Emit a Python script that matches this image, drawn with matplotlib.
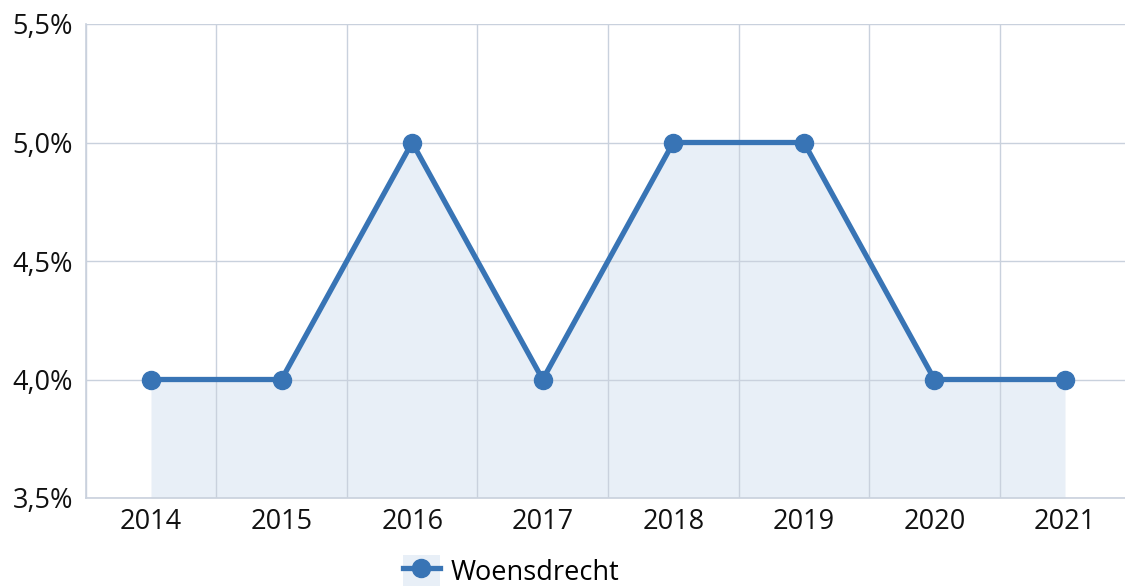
import matplotlib.pyplot as plt
import numpy as np
from matplotlib.lines import Line2D
from matplotlib.patches import Patch
from matplotlib.ticker import FixedLocator, FuncFormatter

years = ['2014', '2015', '2016', '2017', '2018', '2019', '2020', '2021']
values = [4.0, 4.0, 5.0, 4.0, 5.0, 5.0, 4.0, 4.0]
series_name = 'Woensdrecht'
y_ticks = [3.5, 4.0, 4.5, 5.0, 5.5]

line_color = '#3874b5'
fill_color = '#e8eff7'
grid_color = '#c9d1dd'

plt.rcParams['font.family'] = ['Open Sans', 'DejaVu Sans']

fig = plt.figure(figsize=(11.25, 5.87), dpi=100)
W, H = 1125, 587
left, right, top, bottom = 85.7, 1130.3, 24, 498
ax = fig.add_axes([left / W, 1 - bottom / H, (right - left) / W, (bottom - top) / H])

x = np.arange(len(years))
ax.fill_between(x, values, 3.5, color=fill_color, lw=0, zorder=1)
ax.plot(x, values, color=line_color, lw=3.8, marker='o', ms=13, zorder=3, clip_on=False)

ax.set_xlim(-0.5, len(years) - 0.5)
ax.set_ylim(3.5, 5.5)
ax.set_xticks(x)
ax.set_xticklabels(years)
ax.xaxis.set_minor_locator(FixedLocator(np.arange(-0.5, len(years), 1)))
ax.set_yticks(y_ticks)
ax.yaxis.set_major_formatter(FuncFormatter(lambda v, p: f'{v:.1f}%'.replace('.', ',')))

ax.grid(which='minor', axis='x', color=grid_color, lw=1, zorder=2)
ax.grid(which='major', axis='y', color=grid_color, lw=1, zorder=2)
ax.set_axisbelow(False)
for s in ['top', 'right']:
    ax.spines[s].set_visible(False)
for s in ['left', 'bottom']:
    ax.spines[s].set_color(grid_color)
    ax.spines[s].set_linewidth(1.2)

ax.tick_params(which='both', length=0, labelsize=19.5, colors='#111111')
ax.tick_params(axis='x', pad=7)
ax.tick_params(axis='y', pad=9)

handle = (Patch(facecolor=fill_color, edgecolor='none'),
          Line2D([], [], color=line_color, lw=3.8, marker='o', ms=13))
fig.legend([handle], [series_name], loc='center', bbox_to_anchor=(511 / W, 1 - 571 / H),
           frameon=False, fontsize=19.5, handlelength=1.4, handleheight=1.4,
           handletextpad=0.38, borderpad=0)

fig.savefig('out.png', dpi=100)
